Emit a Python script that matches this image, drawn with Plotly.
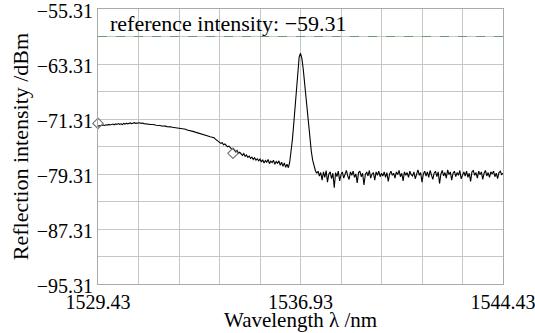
import numpy as np
import plotly.graph_objects as go

# Wavelength sampling grid (nm), 0.05 nm step
wl_start = 1529.43
wl_step = 0.05

intensity = [
    # 1529.43 - 1530.88
    -72.35,-72.30,-72.22,-72.28,-72.18,-72.25,-72.15,-72.20,-72.10,-72.18,
    -72.12,-72.05,-72.15,-72.02,-72.10,-71.98,-72.08,-72.00,-72.12,-71.95,
    -72.05,-71.92,-72.02,-71.96,-71.88,-72.00,-71.90,-71.85,-71.95,-71.88,
    # 1530.93 - 1532.38
    -71.92,-71.85,-71.95,-71.90,-71.98,-72.02,-71.95,-72.08,-72.05,-72.12,
    -72.10,-72.18,-72.15,-72.22,-72.20,-72.28,-72.25,-72.32,-72.30,-72.38,
    -72.35,-72.42,-72.40,-72.48,-72.45,-72.52,-72.55,-72.50,-72.60,-72.58,
    # 1532.43 - 1533.88
    -72.65,-72.70,-72.68,-72.78,-72.82,-72.80,-72.92,-72.95,-73.02,-73.00,
    -73.12,-73.15,-73.22,-73.28,-73.25,-73.38,-73.45,-73.42,-73.55,-73.62,
    -73.60,-73.75,-73.82,-73.90,-73.95,-74.10,-74.05,-74.25,-74.40,-74.55,
    # 1533.93 - 1535.38
    -74.60,-74.85,-74.75,-75.05,-74.95,-75.20,-75.35,-75.25,-75.55,-75.70,
    -75.60,-75.95,-76.10,-75.90,-76.30,-76.15,-76.45,-76.60,-76.35,-76.75,
    -76.55,-76.90,-76.70,-77.05,-76.85,-77.20,-76.95,-77.30,-77.10,-77.40,
    # 1535.43 - 1536.38
    -77.15,-77.55,-77.25,-77.70,-77.35,-77.60,-77.20,-77.80,-77.45,-77.65,
    -77.30,-77.90,-77.50,-77.75,-77.40,-78.05,-77.60,-78.20,-77.70,-78.35,
    # 1536.43 - 1537.53 (reflection peak)
    -77.90,-78.40,-77.60,-76.20,-74.30,-72.00,-69.20,-66.40,-63.90,-62.30,
    -61.75,-62.50,-64.00,-66.00,-68.20,-70.50,-72.60,-74.50,-76.00,-77.30,
    -78.10,-78.80,-79.20,
    # 1537.58 - 1544.43 (noise floor)
    -78.9,-79.6,-79.1,-80.2,-79.0,-79.8,-78.8,-80.5,-79.3,-79.0,
    -80.0,-79.2,-81.3,-79.1,-79.7,-78.9,-80.3,-79.4,-79.0,-79.9,
    -79.2,-78.8,-79.6,-80.1,-79.0,-79.5,-78.9,-79.8,-79.3,-80.6,
    -79.1,-78.9,-79.7,-79.2,-80.9,-79.4,-79.0,-79.6,-78.8,-79.9,
    -79.3,-79.1,-80.2,-79.0,-79.5,-78.9,-79.7,-79.2,-79.6,-79.0,
    -79.8,-79.1,-80.4,-79.3,-78.9,-79.5,-79.2,-79.9,-79.0,-79.4,
    -78.8,-79.7,-79.2,-80.3,-79.0,-79.5,-79.1,-79.8,-78.9,-79.4,
    -79.6,-79.0,-80.0,-79.2,-78.7,-79.5,-79.1,-80.5,-79.3,-78.9,
    -79.6,-79.0,-79.8,-78.8,-79.4,-80.1,-79.2,-78.9,-79.7,-79.0,
    -80.7,-79.3,-78.8,-79.6,-79.1,-79.9,-78.7,-79.4,-79.0,-80.2,
    -79.2,-78.9,-79.7,-79.1,-79.5,-78.8,-80.0,-79.3,-79.0,-79.6,
    -78.9,-79.8,-79.2,-80.4,-79.0,-78.8,-79.5,-79.1,-79.9,-78.9,
    -79.4,-79.0,-80.1,-79.2,-78.8,-79.6,-79.1,-79.8,-79.0,-79.3,
    -78.9,-79.7,-79.2,-80.0,-79.1,-78.9,-79.4,-79.2,
]

wavelength = np.round(wl_start + wl_step * np.arange(len(intensity)), 2)

marker_wl = [1529.43, 1534.43]
marker_int = [-71.95, -76.3]

reference_level = -59.31
ref_label = "reference intensity: \u221259.31"
x_title = "Wavelength \u03bb /nm"
y_title = "Reflection intensity /dBm"

x_ticks = [1529.43, 1536.93, 1544.43]
y_ticks = [-55.31, -63.31, -71.31, -79.31, -87.31, -95.31]

FONT = "Liberation Serif, Times New Roman, serif"
FS_TICK = 20
FS_TITLE = 21
FS_ANN = 22
GRID = "#c6c6c6"

fig = go.Figure()
fig.add_trace(go.Scatter(
    x=wavelength, y=intensity, mode="lines",
    line=dict(color="black", width=1.1), showlegend=False,
))
fig.add_trace(go.Scatter(
    x=marker_wl, y=marker_int, mode="markers",
    marker=dict(symbol="diamond-open", size=8, color="#777777", line=dict(width=1.2)),
    showlegend=False, cliponaxis=False,
))

fig.add_shape(type="line", xref="paper", x0=0, x1=1, yref="y",
              y0=reference_level, y1=reference_level,
              line=dict(color="#6a9e6a", width=1, dash="dash"))
fig.add_annotation(xref="paper", x=0.025, yref="y", y=-57.4, text=ref_label,
                   showarrow=False, xanchor="left", yanchor="middle",
                   font=dict(family=FONT, size=FS_ANN, color="black"))
# x-axis title placed just below the tick labels
fig.add_annotation(xref="paper", x=0.5, yref="paper", y=-0.132, text=x_title,
                   showarrow=False, xanchor="center", yanchor="middle",
                   font=dict(family=FONT, size=FS_TITLE, color="black"))

fig.update_xaxes(
    range=[1529.4299, 1544.4301], tickvals=x_ticks,
    ticktext=[f"{v:.2f}" for v in x_ticks],
    ticklabeloverflow="allow", automargin=False,
    showgrid=True, gridcolor=GRID, gridwidth=1,
    minor=dict(tick0=1529.43, dtick=1.5, showgrid=True, gridcolor=GRID, gridwidth=1),
    showline=True, linecolor="#aaaaaa", linewidth=1, mirror=True,
    ticks="", zeroline=False,
    tickfont=dict(family=FONT, size=FS_TICK, color="black"),
)
fig.update_yaxes(
    range=[-95.3101, -55.3099], tickvals=y_ticks,
    ticktext=[f"\u2212{abs(v):.2f}" for v in y_ticks],
    ticklabeloverflow="allow", automargin=False, ticklabelshift=2,
    showgrid=True, gridcolor=GRID, gridwidth=1,
    minor=dict(tick0=-55.31, dtick=4, showgrid=True, gridcolor=GRID, gridwidth=1),
    showline=True, linecolor="#aaaaaa", linewidth=1, mirror=True,
    ticks="", zeroline=False,
    title=dict(text=y_title, font=dict(family=FONT, size=22, color="black"), standoff=2),
    tickfont=dict(family=FONT, size=FS_TICK, color="black"),
)

fig.update_layout(
    width=535, height=333,
    margin=dict(l=98, r=32, t=9, b=49),
    plot_bgcolor="white", paper_bgcolor="white",
)

fig.write_html("out.html")
